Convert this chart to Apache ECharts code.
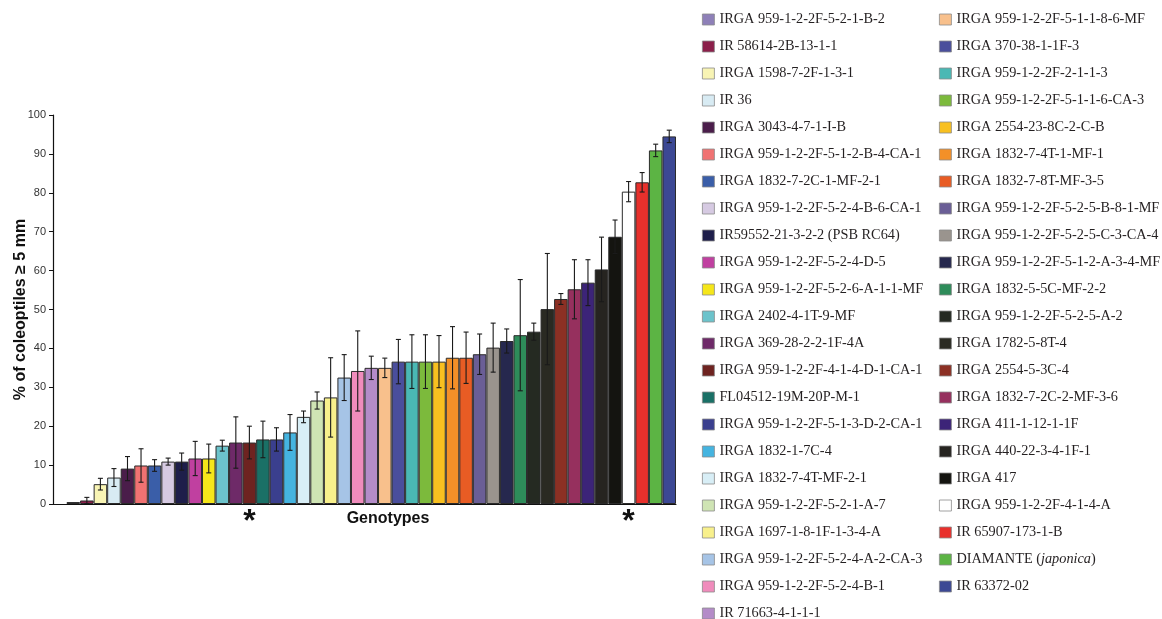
<!DOCTYPE html>
<html>
<head>
<meta charset="utf-8">
<script src="https://cdn.jsdelivr.net/npm/echarts@6/dist/echarts.min.js"></script>
<style>
html,body{margin:0;padding:0;background:#fff;}
#chart{width:1162px;height:619px;}
</style>
</head>
<body>
<div id="chart"></div>
<script>
// ---- data ----
const genotypes = [
  'IRGA 959-1-2-2F-5-2-1-B-2','IR 58614-2B-13-1-1','IRGA 1598-7-2F-1-3-1','IR 36',
  'IRGA 3043-4-7-1-I-B','IRGA 959-1-2-2F-5-1-2-B-4-CA-1','IRGA 1832-7-2C-1-MF-2-1',
  'IRGA 959-1-2-2F-5-2-4-B-6-CA-1','IR59552-21-3-2-2 (PSB RC64)','IRGA 959-1-2-2F-5-2-4-D-5',
  'IRGA 959-1-2-2F-5-2-6-A-1-1-MF','IRGA 2402-4-1T-9-MF','IRGA 369-28-2-2-1F-4A',
  'IRGA 959-1-2-2F-4-1-4-D-1-CA-1','FL04512-19M-20P-M-1','IRGA 959-1-2-2F-5-1-3-D-2-CA-1',
  'IRGA 1832-1-7C-4','IRGA 1832-7-4T-MF-2-1','IRGA 959-1-2-2F-5-2-1-A-7',
  'IRGA 1697-1-8-1F-1-3-4-A','IRGA 959-1-2-2F-5-2-4-A-2-CA-3','IRGA 959-1-2-2F-5-2-4-B-1',
  'IR 71663-4-1-1-1',
  'IRGA 959-1-2-2F-5-1-1-8-6-MF','IRGA 370-38-1-1F-3','IRGA 959-1-2-2F-2-1-1-3',
  'IRGA 959-1-2-2F-5-1-1-6-CA-3','IRGA 2554-23-8C-2-C-B','IRGA 1832-7-4T-1-MF-1',
  'IRGA 1832-7-8T-MF-3-5','IRGA 959-1-2-2F-5-2-5-B-8-1-MF','IRGA 959-1-2-2F-5-2-5-C-3-CA-4',
  'IRGA 959-1-2-2F-5-1-2-A-3-4-MF','IRGA 1832-5-5C-MF-2-2','IRGA 959-1-2-2F-5-2-5-A-2',
  'IRGA 1782-5-8T-4','IRGA 2554-5-3C-4','IRGA 1832-7-2C-2-MF-3-6','IRGA 411-1-12-1-1F',
  'IRGA 440-22-3-4-1F-1','IRGA 417','IRGA 959-1-2-2F-4-1-4-A','IR 65907-173-1-B',
  'DIAMANTE (japonica)','IR 63372-02'
];
const values = [
  0.5, 0.9, 5.1, 6.8, 9.1, 9.9, 9.9, 10.9, 10.9, 11.7, 11.7, 15.0, 15.8, 15.8, 16.6, 16.6,
  18.4, 22.4, 26.6, 27.4, 32.5, 34.2, 35.0, 35.0, 36.6, 36.6, 36.6, 36.6, 37.6, 37.6, 38.5,
  40.2, 41.9, 43.4, 44.3, 50.1, 52.7, 55.2, 56.9, 60.3, 68.7, 80.3, 82.7, 90.9, 94.5
];
const errors = [
  0, 0.8, 1.5, 2.3, 3.1, 4.3, 1.5, 0.9, 2.2, 4.4, 3.7, 1.4, 6.6, 4.2, 4.7, 3.0,
  4.6, 1.5, 2.2, 10.2, 5.9, 10.3, 3.0, 2.5, 5.7, 6.9, 6.9, 6.7, 8.0, 6.6, 5.2,
  6.3, 3.1, 14.3, 2.2, 14.3, 1.4, 7.6, 5.9, 8.3, 4.3, 2.6, 2.5, 1.6, 1.6
];
const colors = [
  '#8e80b8','#8b1f4a','#f8f4b4','#d8ebf3','#4a1d4a','#f07272','#3a5ea8','#d6cae2',
  '#1e1e4a','#c040a0','#f5e61a','#6cc3cb','#6e2a68','#6e2320','#1a7066','#3a3f8e',
  '#45b4e0','#d8eef6','#cfe4b4','#f8f08c','#a6c4e6','#f08cbc','#b48cc8',
  '#f8c08c','#4a4e9c','#4ab8b4','#7cba3c','#f8c020','#f39028','#e85c24','#6a5e96',
  '#9a948e','#26284e','#2e8c5a','#252a22','#2a2a22','#8c3024','#96305e','#3c2478',
  '#262420','#141410','#ffffff','#e8302c','#5cb444','#3c4894'
];
const starred = ['IRGA 959-1-2-2F-4-1-4-D-1-CA-1','IRGA 959-1-2-2F-4-1-4-A'];
const yTicks = {min: 0, max: 100, interval: 10};
const leftLegend = genotypes.slice(0, 23);
const rightLegend = genotypes.slice(23);

// ---- chart ----
const categories = [''].concat(genotypes);
const chart = echarts.init(document.getElementById('chart'), null, {renderer: 'canvas'});

const barSeries = genotypes.map((g, i) => {
  const d = categories.map(() => null);
  d[i + 1] = values[i];
  return {
    name: g, type: 'bar', stack: 'all', data: d,
    barCategoryGap: '0%',
    itemStyle: {color: colors[i], borderColor: '#2b2b2b', borderWidth: 1},
    emphasis: {disabled: true},
    z: 2
  };
});

const errData = genotypes.map((g, i) => [i + 1, values[i] - errors[i], values[i] + errors[i], errors[i]]);

const errSeries = {
  type: 'custom',
  data: errData,
  z: 5,
  silent: true,
  encode: {x: 0, y: [1, 2]},
  renderItem: function (params, api) {
    if (api.value(3) <= 0) return null;
    const x = api.value(0);
    const top = api.coord([x, api.value(2)]);
    const bot = api.coord([x, api.value(1)]);
    const hw = 2.5;
    const st = {stroke: '#1a1a1a', lineWidth: 1.1};
    return {
      type: 'group',
      children: [
        {type: 'line', shape: {x1: top[0], y1: top[1], x2: bot[0], y2: bot[1]}, style: st},
        {type: 'line', shape: {x1: top[0] - hw, y1: top[1], x2: top[0] + hw, y2: top[1]}, style: st},
        {type: 'line', shape: {x1: bot[0] - hw, y1: bot[1], x2: bot[0] + hw, y2: bot[1]}, style: st}
      ]
    };
  }
};

const legendText = {
  fontFamily: 'Liberation Serif', fontSize: 14.3, color: '#231f20', lineHeight: 15,
  rich: {i: {fontFamily: 'Liberation Serif', fontSize: 14.3, color: '#231f20', fontStyle: 'italic', lineHeight: 15}}
};
const legendFmt = function (name) {
  const m = name.match(/^(.*)\((japonica)\)$/);
  return m ? m[1] + '({i|' + m[2] + '})' : name;
};
function legendOf(list, left) {
  return {
    data: list, orient: 'vertical', left: left, top: 12, padding: 0, height: 660,
    itemWidth: 12, itemHeight: 11, itemGap: 12, icon: 'rect',
    itemStyle: {borderColor: '#8a8a8a', borderWidth: 0.8},
    textStyle: legendText, formatter: legendFmt, selectedMode: false
  };
}

const option = {
  animation: false,
  backgroundColor: '#ffffff',
  grid: {left: 53, right: 486, top: 115, bottom: 115, containLabel: false, outerBoundsMode: 'none'},
  legend: [legendOf(leftLegend, 702), legendOf(rightLegend, 939)],
  xAxis: {
    type: 'category', data: categories,
    boundaryGap: true,
    axisLine: {show: true, lineStyle: {color: '#111', width: 1}},
    axisTick: {show: false},
    axisLabel: {
      interval: 0, margin: 2, fontFamily: 'Liberation Sans', fontWeight: 'bold', fontSize: 32, color: '#111',
      formatter: function (v) { return starred.indexOf(v) >= 0 ? '*' : ''; }
    },
    name: 'Genotypes', nameLocation: 'middle', nameGap: 7, nameMoveOverlap: false,
    nameTextStyle: {fontFamily: 'Liberation Sans', fontWeight: 'bold', fontSize: 16, color: '#111', padding: [0, 0, 0, 47]}
  },
  yAxis: {
    type: 'value', min: yTicks.min, max: yTicks.max, interval: yTicks.interval,
    axisLine: {show: true, lineStyle: {color: '#111', width: 1.2}},
    axisTick: {show: true, length: 4, inside: false, lineStyle: {color: '#111'}},
    splitLine: {show: false},
    axisLabel: {fontFamily: 'Liberation Sans', fontSize: 11, color: '#333', margin: 7},
    name: '% of coleoptiles \u2265 5 mm', nameLocation: 'middle', nameGap: 24, nameRotate: 90, nameMoveOverlap: false,
    nameTextStyle: {fontFamily: 'Liberation Sans', fontWeight: 'bold', fontSize: 16, color: '#111'}
  },
  series: barSeries.concat([errSeries])
};
chart.setOption(option);
</script>
</body>
</html>
